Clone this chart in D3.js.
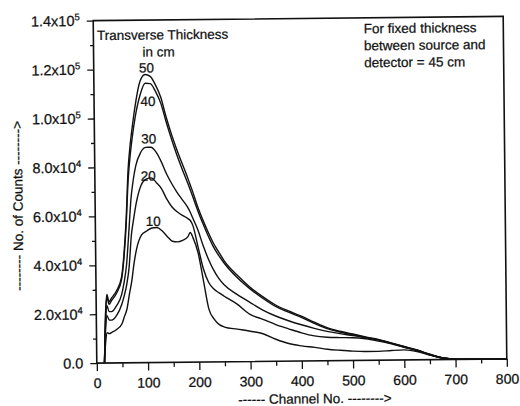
<!DOCTYPE html>
<html>
<head>
<meta charset="utf-8">
<script src="https://cdn.jsdelivr.net/npm/d3@7"></script>
<style>
  body { margin: 0; background: #fff; }
  svg { display: block; font-family: 'Liberation Sans', Arial, sans-serif; }
  .axis .domain { display: none; }
  .axis line { stroke: #111; stroke-width: 1.3; }
  .axis text { fill: #111; stroke: #111; stroke-width: 0.25; font-family: 'Liberation Sans', Arial, sans-serif; }
  .curve { fill: none; stroke: #111; stroke-width: 1.4; stroke-linejoin: round; }
  .note { fill: #111; stroke: #111; stroke-width: 0.25; font-size: 13.5px; }
</style>
</head>
<body>
<script>
// channel numbers shared by every curve
var channels = [15, 18, 21, 25, 30, 40, 50, 55, 60, 65, 70, 75, 80, 90, 100, 110, 120, 130, 140, 150,
    160, 170, 180, 185, 190, 200, 210, 220, 230, 240, 250, 275, 300, 325, 350, 375, 400, 425, 450, 475,
    500, 525, 550, 575, 600, 625, 650, 675, 700, 750, 800];

// counts in units of 1000, one list per transverse thickness
var counts50 = [0, 20, 28, 25, 26.5, 29.5, 35, 44, 58, 79, 90, 98, 105, 115, 117.8, 117, 113.5, 108.5, 100.5, 93.5,
    87.2, 81.5, 76, 73, 70, 63.5, 58, 53, 48.5, 45, 41.5, 35.5, 30.5, 26.5, 23, 20.5, 18.3, 15.8, 13.5, 12,
    10.8, 9.6, 8.5, 7, 5.5, 4, 2.2, 0.7, 0.1, 0, 0];
var counts40 = [0, 19, 27, 24, 25.5, 28.5, 34, 42.5, 56, 75, 86, 94, 100.5, 109.5, 114.2, 114, 110.8, 106, 98.5, 91.5,
    85, 79.2, 73.8, 71, 68, 62, 56.5, 51.5, 47, 43.5, 40.5, 34.5, 29.8, 25.8, 22.4, 20, 17.8, 15.3, 13.1, 11.7,
    10.5, 9.4, 8.3, 6.9, 5.4, 3.9, 2.1, 0.6, 0.1, 0, 0];
var counts30 = [0, 17, 23.4, 21, 21, 23.5, 28, 33, 40, 53, 67, 75, 80.5, 86, 88, 88, 86, 82, 77, 73,
    69.5, 66.5, 63.5, 61.5, 59, 54, 47.5, 42, 37.5, 34, 31.5, 27.5, 24.2, 21, 18.5, 16.5, 14.8, 13.3, 12, 11,
    10.2, 9.3, 8.2, 6.8, 5.3, 3.8, 2, 0.6, 0.1, 0, 0];
var counts20 = [0, 14, 19.3, 17.6, 17.5, 19.5, 24, 27.5, 32, 39, 52, 59, 65, 72.5, 75, 75.5, 73.5, 71, 66.7, 63.5,
    61.5, 60, 58.8, 58, 56, 47, 38, 32.5, 29.8, 28.2, 26.8, 23.5, 19.3, 17.2, 15, 13.2, 11.5, 10.2, 9.6, 9.4,
    9.3, 8.8, 7.8, 6.6, 5.2, 3.8, 2, 0.6, 0.1, 0, 0];
var counts10 = [0, 9, 12.4, 12, 12.5, 13.8, 16, 19, 22, 28, 33.5, 41, 46.5, 52.2, 53.8, 55, 55.2, 53.8, 51.5, 49.5,
    49.2, 49.8, 51.2, 53, 51, 44.5, 33, 21.5, 17.5, 15.2, 14.2, 13.3, 12.4, 11.3, 9, 7.2, 6.2, 5.5, 4.7, 4.2,
    3.8, 3.6, 3.6, 3.9, 4.1, 3.4, 1.9, 0.6, 0.1, 0, 0];

var thickness = ['50', '40', '30', '20', '10'];
var series = [counts50, counts40, counts30, counts20, counts10];
// where each thickness label sits: [channel, counts/1000]
var labelAt = [[103, 118.6], [105, 104.9], [106, 89.6], [104, 74.4], [113, 55.8]];

var xTicks = [0, 100, 200, 300, 400, 500, 600, 700, 800];
var xMinorTicks = [50, 150, 250, 350, 450, 550, 650, 750];
var yTicks = [0, 20, 40, 60, 80, 100, 120, 140];
var yMinorTicks = [10, 30, 50, 70, 90, 110, 130];
var yMantissa = ['0.0', '2.0', '4.0', '6.0', '8.0', '1.0', '1.2', '1.4'];
var yExponent = ['', '4', '4', '4', '4', '5', '5', '5'];

var noteLines = ['For fixed thickness', 'between source and', 'detector = 45 cm'];

var svg = d3.select('body').append('svg')
    .attr('width', 520)
    .attr('height', 406);

// the scanned figure sits slightly turned on the page
var chart = svg.append('g').attr('transform', 'rotate(-0.6,300,190)');

var x = d3.scaleLinear().domain([0, 800]).range([95, 505]);
var y = d3.scaleLinear().domain([0, 140]).range([361, 18.5]);

/* x axis */
var xAxis = chart.append('g')
    .attr('class', 'axis')
    .attr('transform', 'translate(0,' + y(0) + ')')
    .call(d3.axisBottom(x).tickValues(xTicks).tickSize(8).tickPadding(7));
xAxis.selectAll('text').attr('font-size', '14px');
chart.append('g')
    .attr('class', 'axis')
    .attr('transform', 'translate(0,' + y(0) + ')')
    .call(d3.axisBottom(x).tickValues(xMinorTicks).tickSize(4.5).tickFormat(''));

/* y axis */
var yAxis = chart.append('g')
    .attr('class', 'axis')
    .attr('transform', 'translate(' + x(0) + ',0)')
    .call(d3.axisLeft(y).tickValues(yTicks).tickSize(6.5).tickPadding(7)
        .tickFormat(function (d, i) { return yMantissa[i] + (yExponent[i] ? 'x10' : ''); }));
yAxis.selectAll('text')
    .attr('font-size', '14.5px')
    .each(function (d, i) {
        if (yExponent[i]) {
            d3.select(this).append('tspan')
                .attr('dy', '-0.6em')
                .attr('font-size', '9.5px')
                .text(yExponent[i]);
        }
    });
chart.append('g')
    .attr('class', 'axis')
    .attr('transform', 'translate(' + x(0) + ',0)')
    .call(d3.axisLeft(y).tickValues(yMinorTicks).tickSize(3.5).tickFormat(''));

/* frame */
chart.append('rect')
    .attr('x', x(0))
    .attr('y', y(140))
    .attr('width', x(800) - x(0))
    .attr('height', y(0) - y(140))
    .attr('fill', 'none')
    .attr('stroke', '#111')
    .attr('stroke-width', 1.6);

/* curves */
var line = d3.line()
    .x(function (d, i) { return x(channels[i]); })
    .y(function (d) { return y(d); })
    .curve(d3.curveMonotoneX);

chart.selectAll('.curve')
    .data(series)
    .enter().append('path')
    .attr('class', 'curve')
    .attr('d', line);

chart.selectAll('.curve-label')
    .data(thickness)
    .enter().append('text')
    .attr('class', 'note')
    .attr('text-anchor', 'middle')
    .attr('x', function (d, i) { return x(labelAt[i][0]); })
    .attr('y', function (d, i) { return y(labelAt[i][1]); })
    .text(function (d) { return d; });

/* texts */
chart.append('text')
    .attr('class', 'note')
    .attr('x', 98.5)
    .attr('y', 38)
    .text('Transverse Thickness');
chart.append('text')
    .attr('class', 'note')
    .attr('text-anchor', 'middle')
    .attr('x', 160)
    .attr('y', 55)
    .text('in cm');

chart.selectAll('.corner-note')
    .data(noteLines)
    .enter().append('text')
    .attr('class', 'note')
    .attr('x', 365.5)
    .attr('y', function (d, i) { return 34 + i * 17; })
    .text(function (d) { return d; });

chart.append('text')
    .attr('class', 'note')
    .attr('font-size', '12px')
    .attr('x', 236)
    .attr('y', 403.5)
    .text('------ Channel No. -------->');

chart.append('text')
    .attr('class', 'note')
    .attr('font-size', '13px')
    .attr('text-anchor', 'middle')
    .attr('transform', 'translate(22.5,203) rotate(-90)')
    .text('-------- No. of Counts -------->');
</script>
</body>
</html>
